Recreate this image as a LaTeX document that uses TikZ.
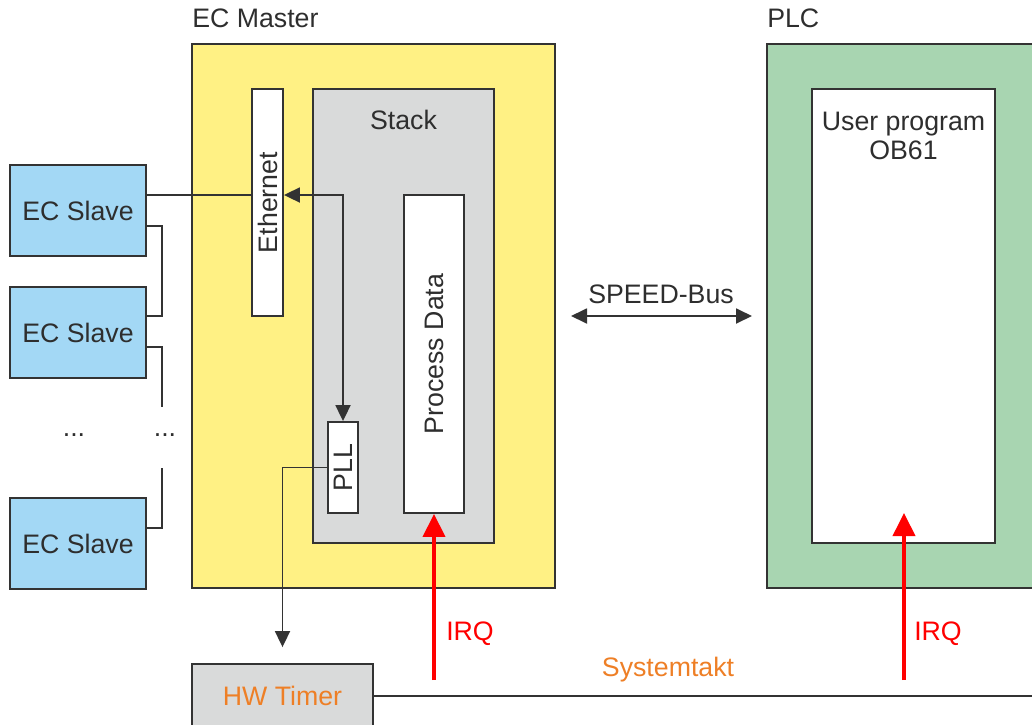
\documentclass[tikz,border=0pt]{standalone}
\usepackage{fontspec}
\setmainfont{Liberation Sans}
\usepackage{xcolor}
\usetikzlibrary{arrows.meta,calc}
\definecolor{txt}{HTML}{2E2E2E}
\definecolor{edge}{HTML}{333333}
\definecolor{master}{HTML}{FFF184}
\definecolor{stackgray}{HTML}{D9DADA}
\definecolor{slave}{HTML}{A3D8F5}
\definecolor{plc}{HTML}{A8D5B1}
\definecolor{clock}{HTML}{EE7F26}
\definecolor{irqred}{HTML}{FF0000}

\begin{document}
\begin{tikzpicture}[x=0.025cm,y=-0.025cm,font=\fontsize{19}{21}\selectfont,text=txt,
  box/.style={draw=edge,line width=1.3pt,inner sep=0pt},
  wire/.style={draw=edge,line width=1.3pt},
  tip/.style={-{Triangle[length=0.4cm,width=0.375cm]}},
  tips/.style={{Triangle[length=0.4cm,width=0.375cm]}-{Triangle[length=0.4cm,width=0.375cm]}},
  irq/.style={draw=irqred,line width=2.8pt,-{Triangle[length=0.575cm,width=0.55cm]}}]
\useasboundingbox (0,0) rectangle (1032,724);
\clip (0,0) rectangle (1032,724);
% EC master
\node[box,fill=master,minimum width=9.075cm,minimum height=13.6cm] (master) at (373.5,316) {};
\node[anchor=west,inner sep=0pt] (mastertext) at (192,18) {EC Master};
\node[box,fill=stackgray,minimum width=4.525cm,minimum height=11.35cm] (stack) at (403.5,316) {};
\node (stacktext) at (403.5,120) {Stack};
\node[box,fill=white,minimum width=0.775cm,minimum height=5.675cm] (eth) at (267.5,202.5) {};
\node[rotate=90] (ethtext) at (eth) {Ethernet};
\node[box,fill=white,minimum width=1.5cm,minimum height=7.95cm] (pd) at (434,354) {};
\node[rotate=90] (pdtext) at (pd) {Process Data};
\node[box,fill=white,minimum width=0.75cm,minimum height=2.275cm] (pll) at (343,467.5) {};
\node[rotate=90] (plltext) at (pll) {PLL};
% PLC
\node[box,fill=plc,minimum width=7.5cm,minimum height=13.6cm] (plc) at (917,316) {};
\node[anchor=west,inner sep=0pt] (plctext) at (767,18) {PLC};
\node[box,fill=white,minimum width=4.575cm,minimum height=11.35cm] (prog) at (903.5,316) {};
\node[align=center] (progtext) at (903.5,136) {User program\\OB61};
% slaves
\foreach \name/\y in {s1/210.5,s2/332.5,s3/543.5}
  \node[box,fill=slave,minimum width=3.4cm,minimum height=2.275cm] (\name) at (78,\y) {EC Slave};
\node (dotsa) at (74,435) {...};
\node (dotsb) at (165,435) {...};
\draw[wire] ($(s1.east)+(0,15.5)$) -| ($(s2.east)+(15,-16.5)$) -- ($(s2.east)+(0,-16.5)$);
\draw[wire] ($(s2.east)+(0,14.5)$) -| ($(s2.east)+(15,74.5)$);
\draw[wire] ($(s3.east)+(15,-75.5)$) |- ($(s3.east)+(0,-15.5)$);
\coordinate (tap) at (343,195);
\draw[wire] (s1.east |- tap) -- (eth.west |- tap);
\draw[wire,tips] (eth.east |- tap) -- (tap) -- (pll.north);
% timer
\node[box,fill=stackgray,minimum width=4.525cm,minimum height=1.6cm,text=clock] (timer) at (282.5,696) {HW Timer};
\draw[wire,tip] (pll.west) -| ($(timer.north)+(0,-16)$);
\coordinate (clkend) at (1040,696);
\draw[wire] (timer.east) -- (clkend);
\node[text=clock] (clktext) at (668,670) {Systemtakt};
% interrupts
\coordinate (irqa) at (434,680);
\coordinate (irqb) at (904,680);
\coordinate (irqbtop) at (904,513);
\draw[irq] (irqa) -- (pd.south);
\draw[irq] (irqb) -- (irqbtop);
\node[text=irqred] (irqatext) at (470,634) {IRQ};
\node[text=irqred] (irqbtext) at (938,634) {IRQ};
% bus
\coordinate (busl) at (571,316);
\coordinate (busr) at (752,316);
\draw[wire,tips] (busl) -- (busr);
\node (bustext) at (661,294) {SPEED-Bus};
\end{tikzpicture}
\end{document}
